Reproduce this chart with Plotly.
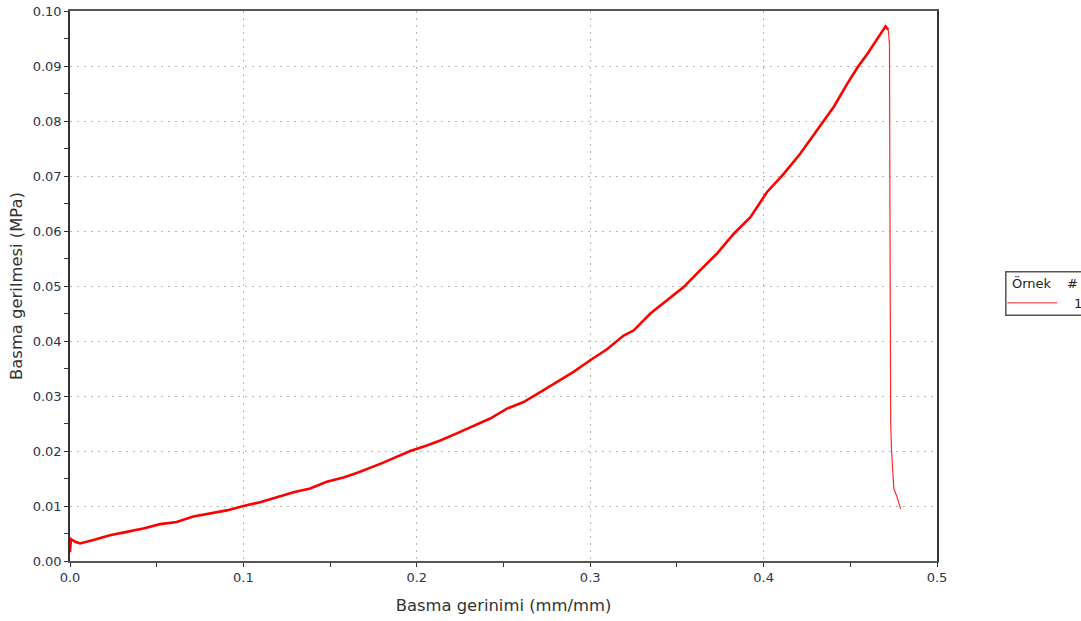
import plotly.graph_objects as go

# Rising part of the compression curve (strain mm/mm, stress MPa)
strain_rise = [0.0, 0.0005, 0.003, 0.0058, 0.0135, 0.023, 0.0327, 0.0423, 0.052, 0.0615,
               0.0711, 0.0808, 0.0904, 0.1, 0.1096, 0.1193, 0.1289, 0.1385, 0.1481, 0.1577,
               0.1654, 0.18, 0.1962, 0.2058, 0.2135, 0.2231, 0.2327, 0.2423, 0.252, 0.2616,
               0.2712, 0.2808, 0.2904, 0.3, 0.3097, 0.3193, 0.325, 0.3347, 0.3443, 0.3539,
               0.3635, 0.3731, 0.3828, 0.3924, 0.402, 0.4116, 0.4212, 0.4308, 0.4405, 0.4483,
               0.4543, 0.4603, 0.4643, 0.4673, 0.4703, 0.4719]
stress_rise = [0.0016, 0.0040, 0.0035, 0.0032, 0.0038, 0.0047, 0.0053, 0.0059, 0.0067, 0.0071,
               0.0081, 0.0086, 0.0092, 0.0100, 0.0107, 0.0116, 0.0125, 0.0132, 0.0144, 0.0152,
               0.0160, 0.0178, 0.0200, 0.0210, 0.0219, 0.0232, 0.0245, 0.0259, 0.0277, 0.0289,
               0.0307, 0.0325, 0.0344, 0.0365, 0.0385, 0.0410, 0.0419, 0.0450, 0.0474, 0.0498,
               0.0529, 0.0559, 0.0595, 0.0625, 0.0671, 0.0704, 0.0741, 0.0784, 0.0826, 0.0868,
               0.0898, 0.0924, 0.0943, 0.0959, 0.0972, 0.0966]

# Failure / drop part
strain_drop = [0.4719, 0.4726, 0.4728, 0.4731, 0.4733, 0.4738, 0.4751, 0.4770, 0.4790]
stress_drop = [0.0966, 0.0940, 0.0700, 0.0450, 0.0250, 0.0200, 0.0132, 0.0116, 0.0095]

x_ticks = [0.0, 0.1, 0.2, 0.3, 0.4, 0.5]
x_labels = ["0.0", "0.1", "0.2", "0.3", "0.4", "0.5"]
y_ticks = [0.00, 0.01, 0.02, 0.03, 0.04, 0.05, 0.06, 0.07, 0.08, 0.09, 0.10]
y_labels = ["0.00", "0.01", "0.02", "0.03", "0.04", "0.05", "0.06", "0.07", "0.08", "0.09", "0.10"]

legend_title = ["Örnek", "#"]
series_name = "1"

FONT = "DejaVu Sans"
TICKCOL = "#2b3350"

fig = go.Figure()
fig.add_trace(go.Scatter(x=strain_rise, y=stress_rise, mode="lines",
                         line=dict(color="#ff0000", width=2.6), showlegend=False,
                         hoverinfo="skip"))
fig.add_trace(go.Scatter(x=strain_drop, y=stress_drop, mode="lines",
                         line=dict(color="#ff2a2a", width=1.2), showlegend=False,
                         name=series_name))

W, H = 1081, 621
L, T = 70, 10.7
R = W - 936.7
B = H - 560.7

fig.update_layout(
    width=W, height=H,
    margin=dict(l=L, r=R, t=T, b=B, autoexpand=False),
    paper_bgcolor="white", plot_bgcolor="white",
    font=dict(family=FONT, size=13, color=TICKCOL),
    showlegend=False,
)

GRID = dict(showgrid=True, gridcolor="#b8b8ac", griddash="2px,5px", gridwidth=1)

fig.update_xaxes(
    range=[0, 0.5], tickvals=x_ticks, ticktext=x_labels,
    showline=True, linecolor="#555555", linewidth=1.5, mirror=True,
    ticks="outside", ticklen=4, tickcolor="#333333",
    minor=dict(dtick=0.05, ticks="outside", ticklen=4, tickcolor="#333333", showgrid=False),
    zeroline=False,
    title=dict(text="Basma gerinimi (mm/mm)", font=dict(family=FONT, size=16.4, color="#333333"), standoff=15),
    tickfont=dict(family=FONT, size=13, color=TICKCOL),
    **GRID,
)
fig.update_yaxes(
    range=[0, 0.1], tickvals=y_ticks, ticktext=y_labels,
    showline=True, linecolor="#333333", linewidth=1.5, mirror=True,
    ticks="outside", ticklen=4, tickcolor="#333333",
    minor=dict(dtick=0.005, ticks="outside", ticklen=4, tickcolor="#333333", showgrid=False),
    zeroline=False,
    title=dict(text="Basma gerilmesi (MPa)", font=dict(family=FONT, size=16.4, color="#333333"), standoff=6),
    tickfont=dict(family=FONT, size=13, color=TICKCOL),
    **GRID,
)

# Legend box drawn in pixel coordinates converted to paper coordinates
def px(xp):
    return (xp - L) / (W - L - R)

def py(yp):
    return 1 - (yp - T) / (H - T - B)

fig.add_shape(type="rect", xref="paper", yref="paper",
              x0=px(1005.5), x1=px(1095), y0=py(315), y1=py(271.5),
              line=dict(color="#555555", width=1.5), fillcolor="white", layer="above")
fig.add_shape(type="line", xref="paper", yref="paper",
              x0=px(1007), x1=px(1057), y0=py(302.5), y1=py(302.5),
              line=dict(color="#f27070", width=1.5), layer="above")
fig.add_annotation(xref="paper", yref="paper", x=px(1010), y=py(283), text=legend_title[0],
                   showarrow=False, xanchor="left", yanchor="middle",
                   font=dict(family=FONT, size=13, color="#222222"))
fig.add_annotation(xref="paper", yref="paper", x=px(1065), y=py(283), text=legend_title[1],
                   showarrow=False, xanchor="left", yanchor="middle",
                   font=dict(family=FONT, size=13, color="#222222"))
fig.add_annotation(xref="paper", yref="paper", x=px(1072), y=py(303.5), text=series_name,
                   showarrow=False, xanchor="left", yanchor="middle",
                   font=dict(family=FONT, size=13, color="#222222"))

fig.write_html("out.html",
               config={"displayModeBar": False},
               post_script="document.body.style.margin='0';document.body.style.overflow='hidden';")
